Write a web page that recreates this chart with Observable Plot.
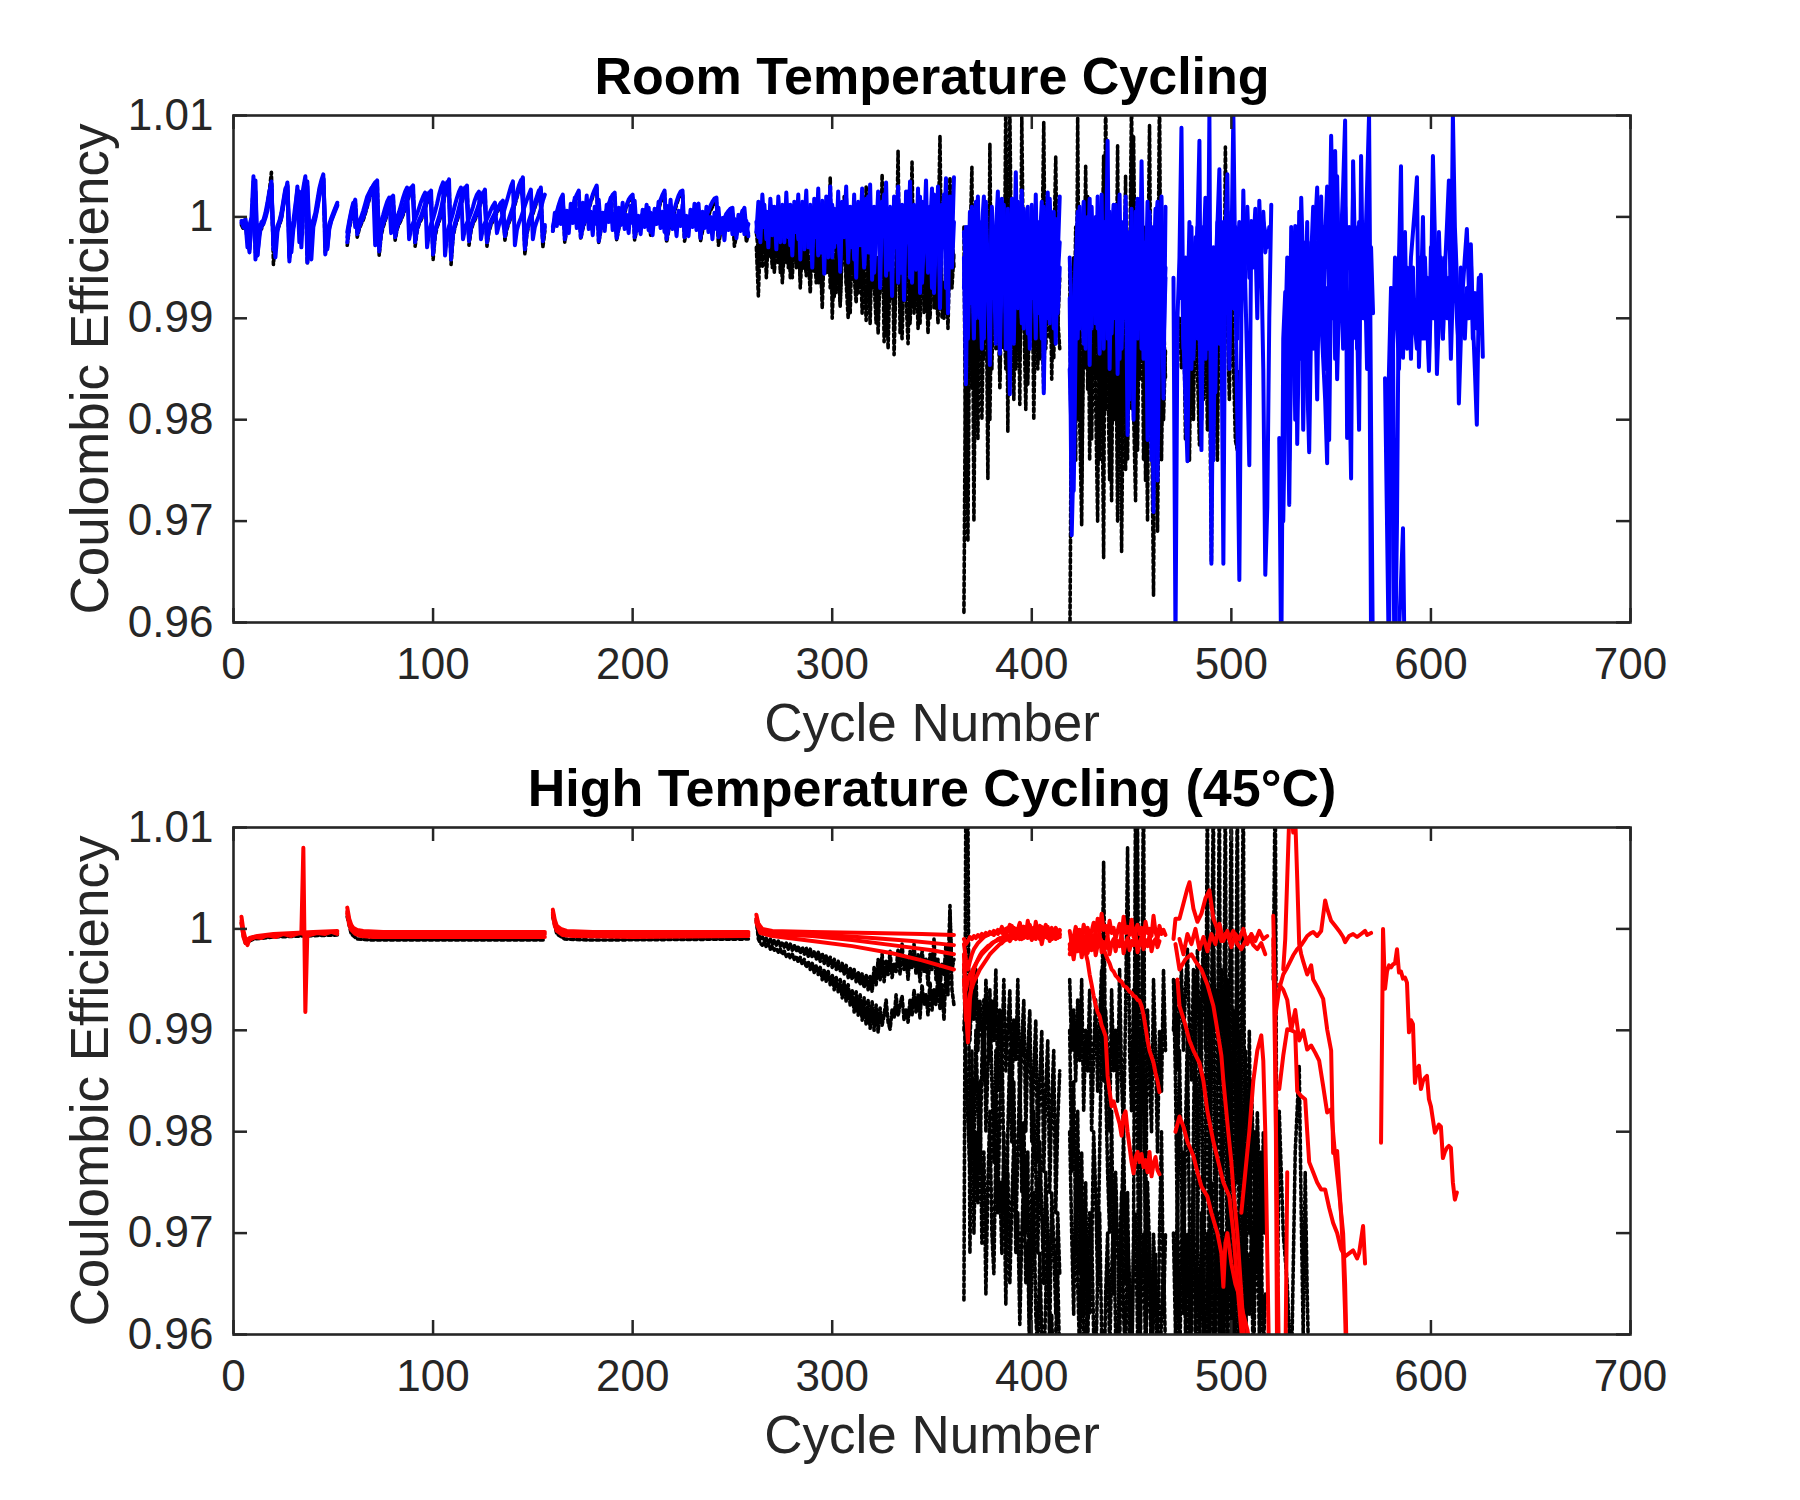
<!DOCTYPE html>
<html><head><meta charset="utf-8">
<script src="https://cdn.jsdelivr.net/npm/d3@7"></script>
<script src="https://cdn.jsdelivr.net/npm/@observablehq/plot@0.6"></script>
<style>
html,body{margin:0;padding:0;background:#fff;}
#chart{width:1800px;}
#chart svg{display:block;}
</style></head><body><div id="chart"></div>
<script>
const xDomain = [0, 700];
const yDomain = [0.96, 1.01];
const xTicks = [0, 100, 200, 300, 400, 500, 600, 700];
const xTickLabels = ["0", "100", "200", "300", "400", "500", "600", "700"];
const yTicks = [0.96, 0.97, 0.98, 0.99, 1.0, 1.01];
const yTickLabels = ["0.96", "0.97", "0.98", "0.99", "1", "1.01"];
const titles = ["Room Temperature Cycling", "High Temperature Cycling (45°C)"];
const xLabel = "Cycle Number";
const yLabel = "Coulombic Efficiency";

// ===== Room temperature: CE per cycle, one array per cell & block =====
const rtBlueA1 = [0.9996,0.9990,0.9995,0.9970,0.9992,0.9999,1.0040,0.9958,0.9984,0.9992,0.9990,0.9996,1.0001,1.0010,1.0022,1.0035,0.9972,0.9978,0.9989,0.9994,0.9999,1.0011,1.0023,1.0034,0.9956,0.9981,0.9992,1.0006,1.0030,0.9998,1.0013,1.0029,1.0040,0.9955,0.9986,0.9994,0.9997,1.0004,1.0016,1.0028,1.0036,1.0042,0.9963,0.9983,0.9993,0.9999,1.0004,1.0009,1.0014];
const rtBlueA2 = [0.9993,0.9998,0.9985,0.9965,0.9996,1.0012,1.0025,0.9962,0.9980,0.9995,0.9993,0.9999,1.0006,1.0018,1.0030,0.9978,0.9960,0.9985,0.9995,1.0002,1.0014,1.0026,1.0030,0.9990,0.9965,0.9988,1.0000,1.0020,1.0025,0.9970,1.0008,1.0022,1.0035,0.9988,0.9958,0.9990,0.9998,1.0008,1.0020,1.0032,1.0038,0.9985,0.9970,0.9990,0.9997,1.0002,1.0008,1.0012];
const rtBlueA3 = [0.9994,0.9996,0.9988,0.9992,0.9968,0.9994,1.0015,1.0036,0.9962,0.9986,0.9993,0.9997,1.0004,1.0014,1.0026,1.0032,0.9968,0.9982,0.9991,0.9996,1.0004,1.0016,1.0028,1.0031,0.9960,0.9984,0.9996,1.0012,1.0026,0.9975,1.0005,1.0020,1.0034,1.0030,0.9960,0.9988,0.9995,1.0000,1.0010,1.0022,1.0032,1.0038,0.9990,0.9968,0.9988,0.9996,1.0001,1.0006,1.0011];
const rtBlackA1 = [0.9992,0.9988,0.9994,0.9975,0.9990,0.9996,1.0035,0.9965,0.9980,0.9990,0.9988,0.9994,1.0000,1.0012,1.0026,1.0044,0.9953,0.9975,0.9987,0.9992,0.9998,1.0012,1.0025,1.0032,0.9962,0.9978,0.9990,1.0004,1.0026,0.9985,1.0010,1.0026,1.0038,0.9954,0.9982,0.9992,0.9996,1.0002,1.0014,1.0026,1.0034,1.0040,0.9965,0.9980,0.9991,0.9997,1.0002,1.0007,1.0012];

const rtBlueB1 = [0.9975,0.9990,1.0000,1.0010,1.0017,0.9983,0.9990,0.9995,0.9999,1.0005,1.0012,1.0019,1.0026,1.0030,1.0033,1.0036,0.9966,0.9985,0.9993,0.9998,1.0005,1.0012,1.0018,1.0021,0.9980,0.9990,0.9995,0.9999,1.0004,1.0010,1.0017,1.0023,1.0028,1.0031,0.9975,0.9988,0.9995,0.9999,1.0004,1.0010,1.0016,1.0022,1.0026,0.9963,0.9984,0.9992,0.9997,1.0004,1.0013,1.0024,1.0032,1.0037,0.9958,0.9983,0.9992,0.9998,1.0005,1.0013,1.0021,1.0027,1.0031,0.9976,0.9989,0.9995,0.9999,1.0004,1.0010,1.0016,1.0022,1.0027,0.9975,0.9988,0.9994,0.9998,1.0002,1.0006,1.0010,1.0013,1.0016,0.9981,0.9991,0.9996,1.0001,1.0007,1.0014,1.0021,1.0028,1.0034,1.0039,0.9968,0.9986,0.9994,0.9999,1.0005,1.0011,1.0017,1.0023,1.0029,0.9976,0.9990];
const rtBlueB2 = [0.9985,0.9996,1.0006,1.0014,0.9990,0.9993,0.9996,1.0000,1.0006,1.0013,1.0020,1.0024,1.0028,1.0030,0.9972,0.9982,0.9990,0.9996,1.0002,1.0009,1.0015,1.0019,0.9984,0.9992,0.9996,1.0000,1.0005,1.0012,1.0019,1.0025,1.0029,0.9978,0.9988,0.9994,0.9998,1.0003,1.0009,1.0015,1.0020,1.0024,0.9970,0.9985,0.9993,0.9998,1.0005,1.0013,1.0022,1.0029,1.0034,0.9962,0.9982,0.9991,0.9997,1.0004,1.0012,1.0019,1.0025,1.0029,0.9978,0.9988,0.9994,0.9999,1.0004,1.0010,1.0017,1.0022,1.0025,0.9978,0.9989,0.9994,0.9998,1.0002,1.0007,1.0011,1.0014,0.9984,0.9992,0.9997,1.0002,1.0009,1.0016,1.0023,1.0030,1.0035,0.9972,0.9987,0.9994,0.9999,1.0005,1.0011,1.0017,1.0022,1.0027,0.9978,0.9990,0.9996,1.0001,1.0008,1.0016,1.0022];
const rtBlueB3 = [0.9980,0.9994,1.0004,1.0012,1.0008,0.9986,0.9992,0.9997,1.0002,1.0008,1.0015,1.0022,1.0027,1.0031,1.0034,0.9990,0.9970,0.9988,0.9995,1.0001,1.0008,1.0014,1.0019,1.0010,0.9983,0.9992,0.9997,1.0002,1.0007,1.0013,1.0020,1.0025,1.0029,1.0015,0.9978,0.9990,0.9997,1.0001,1.0007,1.0013,1.0019,1.0024,1.0010,0.9966,0.9986,0.9994,1.0000,1.0008,1.0018,1.0028,1.0034,1.0020,0.9962,0.9985,0.9994,1.0001,1.0009,1.0017,1.0024,1.0029,1.0012,0.9979,0.9991,0.9997,1.0002,1.0007,1.0013,1.0019,1.0024,1.0010,0.9978,0.9990,0.9996,1.0000,1.0004,1.0008,1.0011,1.0014,0.9995,0.9984,0.9993,0.9998,1.0004,1.0010,1.0017,1.0024,1.0031,1.0036,1.0012,0.9972,0.9988,0.9996,1.0002,1.0008,1.0014,1.0020,1.0026,1.0010,0.9980,0.9992];
const rtBlackB1 = [0.9972,0.9988,0.9998,1.0008,1.0015,0.9980,0.9988,0.9993,0.9997,1.0003,1.0010,1.0017,1.0024,1.0029,1.0032,1.0034,0.9962,0.9982,0.9990,0.9996,1.0003,1.0010,1.0016,1.0019,0.9977,0.9988,0.9993,0.9997,1.0002,1.0008,1.0015,1.0021,1.0026,1.0029,0.9971,0.9986,0.9993,0.9997,1.0002,1.0008,1.0014,1.0020,1.0024,0.9958,0.9980,0.9990,0.9995,1.0002,1.0011,1.0022,1.0030,1.0035,0.9953,0.9980,0.9990,0.9996,1.0003,1.0011,1.0019,1.0025,1.0029,0.9972,0.9986,0.9993,0.9997,1.0002,1.0008,1.0014,1.0020,1.0025,0.9971,0.9985,0.9992,0.9996,1.0000,1.0004,1.0008,1.0011,1.0014,0.9977,0.9988,0.9994,0.9999,1.0005,1.0012,1.0019,1.0026,1.0032,1.0037,0.9963,0.9983,0.9992,0.9997,1.0003,1.0009,1.0015,1.0021,1.0027,0.9970,0.9986];

const rtBlueC1 = [0.9990,0.9998,1.0005,1.0012,1.0018,1.0022,0.9978,0.9990,0.9996,1.0003,1.0010,1.0017,1.0022,1.0026,0.9980,0.9990,0.9996,1.0002,1.0009,1.0016,1.0022,1.0027,1.0031,0.9976,0.9988,0.9995,1.0001,1.0007,1.0013,1.0018,1.0022,1.0024,0.9979,0.9990,0.9996,1.0001,1.0006,1.0012,1.0017,1.0020,1.0022,0.9980,0.9990,0.9995,0.9999,1.0003,1.0006,1.0008,1.0009,0.9985,0.9992,0.9997,1.0003,1.0010,1.0017,1.0022,1.0026,0.9978,0.9989,0.9995,1.0001,1.0008,1.0015,1.0021,1.0025,1.0026,0.9980,0.9990,0.9995,0.9999,1.0003,1.0007,1.0011,1.0013,0.9982,0.9991,0.9996,1.0001,1.0006,1.0011,1.0015,1.0018,1.0019,0.9980,0.9990,0.9995,0.9999,1.0003,1.0006,1.0008,1.0009,0.9983,0.9991,0.9996,1.0001,1.0005,1.0009,0.9986,0.9993];
const rtBlueC2 = [0.9986,1.0004,0.9991,1.0011,0.9993,1.0015,0.9987,1.0006,0.9984,1.0013,0.9994,1.0019,0.9989,1.0007,0.9985,1.0014,0.9996,1.0021,0.9988,1.0005,0.9982,1.0010,0.9993,1.0017,0.9990,1.0004,0.9986,1.0012,0.9995,1.0019,0.9987,1.0003,0.9981,1.0009,0.9992,1.0014,0.9988,1.0002,0.9984,1.0011,0.9994,1.0016,0.9986,1.0001,0.9983,1.0007,0.9990,1.0012,0.9987,1.0004,0.9982,1.0008,0.9993,1.0015,0.9989,1.0005,0.9985,1.0011,0.9994,1.0017,0.9988,1.0002,0.9981,1.0006,0.9991,1.0012,0.9986,1.0001,0.9981,1.0007,0.9990,1.0013,0.9987,1.0003,0.9979,1.0005,0.9989,1.0010,0.9985,1.0000,0.9978,1.0004,0.9988,1.0009,0.9984,0.9999,0.9977,1.0003,0.9987,1.0008,0.9983,0.9998,0.9979,1.0002,0.9986,1.0006,0.9983,0.9996,0.9981];
const rtBlackC1 = [0.9986,0.9995,1.0003,1.0010,1.0016,1.0020,0.9975,0.9987,0.9994,1.0001,1.0008,1.0015,1.0020,1.0024,0.9978,0.9988,0.9994,1.0000,1.0007,1.0014,1.0020,1.0025,1.0029,0.9974,0.9986,0.9993,0.9999,1.0005,1.0011,1.0016,1.0020,1.0022,0.9977,0.9988,0.9994,0.9999,1.0004,1.0010,1.0015,1.0018,1.0020,0.9977,0.9987,0.9992,0.9996,1.0000,1.0003,1.0005,1.0006,0.9982,0.9989,0.9994,1.0000,1.0007,1.0014,1.0019,1.0023,0.9975,0.9986,0.9992,0.9998,1.0005,1.0012,1.0018,1.0022,1.0023,0.9976,0.9986,0.9991,0.9995,0.9999,1.0003,1.0007,1.0009,0.9976,0.9986,0.9991,0.9996,1.0001,1.0006,1.0010,1.0013,1.0014,0.9972,0.9984,0.9989,0.9993,0.9997,1.0000,1.0002,1.0003,0.9971,0.9982,0.9988,0.9994,0.9998,1.0002,0.9975,0.9984];

const rtBlueD1 = [0.9985,1.0015,0.9975,1.0022,0.9990,1.0005,0.9970,1.0018,0.9982,1.0010,0.9968,1.0020,0.9988,1.0008,0.9975,1.0024,0.9980,1.0012,0.9962,1.0015,0.9985,1.0022,0.9958,1.0010,0.9992,1.0026,0.9970,1.0005,0.9950,1.0018,0.9980,1.0028,0.9965,1.0012,0.9944,1.0020,0.9985,1.0030,0.9960,1.0008,0.9975,1.0025,0.9946,1.0015,0.9990,1.0030,0.9955,1.0010,0.9970,1.0022,0.9940,1.0012,0.9982,1.0028,0.9952,1.0018,0.9965,1.0032,0.9938,1.0010,0.9978,1.0025,0.9930,1.0015,0.9985,1.0034,0.9948,1.0008,0.9922,1.0020,0.9970,1.0030,0.9945,1.0012,0.9918,1.0025,0.9975,1.0035,0.9935,1.0005,0.9960,1.0028,0.9925,1.0015,0.9980,1.0036,0.9950,1.0010,0.9930,1.0022,0.9965,1.0030,0.9910,1.0012,0.9975,1.0038,0.9905,1.0020,0.9968,1.0039];
const rtBlueD2 = [0.9995,0.9980,1.0008,0.9990,1.0012,0.9978,1.0004,0.9993,1.0010,0.9984,1.0006,0.9990,0.9975,1.0012,0.9995,0.9982,1.0008,0.9972,1.0002,0.9990,1.0010,0.9978,0.9996,1.0015,0.9968,1.0003,0.9985,1.0012,0.9975,0.9998,1.0008,0.9962,0.9990,1.0016,0.9978,1.0004,0.9960,0.9995,1.0012,0.9970,1.0002,0.9985,0.9955,1.0010,0.9980,1.0018,0.9965,0.9992,1.0006,0.9958,0.9990,1.0015,0.9972,1.0000,0.9950,0.9988,1.0020,0.9968,1.0005,0.9945,0.9985,1.0012,0.9960,0.9998,1.0022,0.9942,0.9980,1.0010,0.9958,0.9995,1.0018,0.9935,0.9975,1.0005,0.9952,0.9990,1.0025,0.9940,0.9982,1.0012,0.9948,0.9995,1.0020,0.9935,0.9978,1.0008,0.9945,0.9988,1.0028,0.9925,0.9980,1.0012,0.9940,0.9990,1.0022,0.9930,0.9975,1.0010,0.9950,0.9995];
const rtBlackD1 = [0.9970,0.9922,0.9985,0.9950,0.9995,0.9940,0.9980,0.9960,1.0000,0.9945,0.9975,0.9955,0.9990,0.9935,0.9968,1.0005,0.9950,0.9978,0.9940,0.9985,0.9955,0.9995,0.9930,0.9972,0.9948,1.0010,0.9960,0.9925,0.9980,0.9945,0.9990,0.9935,0.9965,0.9910,0.9975,1.0015,0.9945,1.0039,0.9900,0.9955,0.9925,0.9980,0.9915,0.9960,0.9995,0.9935,0.9900,0.9970,0.9985,0.9950,0.9985,0.9925,0.9970,0.9905,0.9955,1.0030,0.9940,0.9895,0.9975,0.9930,0.9960,0.9885,0.9945,1.0020,0.9877,0.9965,0.9870,0.9950,0.9990,0.9864,0.9940,1.0065,0.9885,0.9960,1.0010,0.9920,0.9875,0.9955,1.0054,0.9905,0.9930,0.9985,0.9895,0.9950,1.0000,0.9915,0.9965,0.9900,0.9945,0.9990,0.9910,0.9970,1.0080,0.9900,0.9935,0.9905,0.9960,1.0039,0.9985,0.9950];
const rtBlackD2 = [0.9985,0.9965,1.0002,0.9970,0.9990,0.9958,1.0005,0.9975,0.9950,0.9995,0.9962,0.9988,0.9945,1.0000,0.9970,0.9955,0.9992,0.9940,0.9980,1.0008,0.9950,0.9975,0.9938,0.9995,0.9965,0.9942,0.9985,1.0010,0.9948,0.9970,0.9935,0.9990,0.9955,0.9925,0.9980,0.9945,1.0012,0.9930,0.9968,0.9920,0.9985,0.9950,0.9912,0.9975,1.0020,0.9935,0.9960,0.9905,0.9980,0.9942,0.9915,0.9970,0.9930,1.0025,0.9950,0.9898,0.9965,0.9920,0.9985,0.9935,0.9895,0.9960,0.9925,1.0042,0.9940,0.9882,0.9955,0.9918,0.9975,0.9890,0.9945,1.0030,0.9910,0.9880,0.9950,0.9925,1.0020,0.9895,0.9940,0.9910,0.9960,0.9890,0.9935,1.0015,0.9905,0.9950,0.9885,0.9940,1.0025,0.9910,0.9945,0.9895,0.9960,0.9920,0.9900,0.9955,0.9890,0.9975,0.9930,0.9965];

const rtBlueE1 = [0.9960,0.9835,0.9990,0.9930,1.0010,0.9905,0.9980,1.0020,0.9915,0.9995,0.9880,1.0015,0.9940,0.9854,1.0005,0.9920,0.9985,1.0025,0.9900,0.9960,1.0012,0.9870,0.9990,0.9825,1.0018,0.9935,1.0044,0.9910,0.9975,1.0026,0.9890,0.9965,1.0010,0.9880,0.9995,0.9930,1.0022,0.9905,0.9975,1.0015,0.9826,0.9950,1.0024,0.9895,0.9980,1.0005,0.9875,0.9960,1.0020];
const rtBlueE2 = [0.9985,0.9950,0.9905,1.0005,0.9960,0.9880,1.0015,0.9945,0.9900,0.9990,1.0020,0.9925,0.9965,0.9895,1.0010,0.9950,0.9875,0.9995,0.9930,1.0018,0.9960,0.9905,1.0008,0.9945,0.9885,0.9990,0.9920,1.0015,0.9955,0.9895,1.0005,0.9940,0.9985,0.9870,1.0012,0.9960,0.9905,0.9995,0.9935,0.9880,1.0010,0.9965,0.9900,1.0018,0.9950,0.9890,0.9998,0.9940,0.9975];
const rtBlueE3 = [0.9930,0.9990,0.9880,0.9965,0.9915,0.9995,0.9900,0.9975,0.9935,0.9870,0.9985,0.9920,0.9960,0.9895,1.0000,0.9940,0.9910,0.9980,0.9865,0.9950,0.9925,0.9995,0.9890,0.9960,0.9935,0.9875,0.9990,0.9915,0.9970,0.9900,1.0008,0.9945,0.9885,0.9975,0.9920,0.9960,0.9880,0.9990,0.9930,0.9965,0.9895,1.0002,0.9940,0.9910,0.9970,0.9925,0.9985,0.9905,0.9950];
const rtBlackE1 = [0.9610,0.9920,0.9680,0.9970,1.0049,0.9700,0.9950,0.9860,0.9990,0.9800,0.9920,0.9975,0.9742,1.0072,0.9850,0.9960,0.9880,0.9985,0.9830,0.9940,0.9870,1.0120,0.9788,1.0110,0.9900,0.9960,0.9850,0.9990,0.9815,1.0098,0.9905,0.9810,0.9970,0.9880,0.9995,0.9800,0.9930,0.9985,0.9860,0.9950,1.0093,0.9870,0.9920,0.9980,0.9840,0.9960,1.0059,0.9890,0.9940];
const rtBlackE2 = [0.9990,0.9720,0.9950,0.9880,0.9830,0.9975,0.9900,0.9780,0.9960,0.9920,0.9860,0.9995,0.9890,0.9800,0.9940,0.9980,0.9870,0.9925,0.9840,0.9990,0.9900,0.9850,0.9960,0.9880,0.9935,0.9820,0.9970,0.9905,0.9860,0.9945,0.9890,0.9985,0.9835,0.9920,0.9960,0.9870,0.9910,0.9850,0.9975,0.9895,0.9830,0.9940,0.9965,0.9880,0.9915,0.9860,0.9950,0.9900,0.9870];

const rtBlueF1 = [0.9920,0.9686,0.9769,0.9950,1.0005,0.9890,0.9975,1.0015,0.9910,0.9985,0.9854,1.0010,0.9940,0.9895,1.0020,0.9960,0.9880,0.9995,0.9935,1.0075,0.9850,0.9980,1.0012,0.9900,0.9965,1.0022,0.9870,0.9950,0.9990,0.9785,0.9930,1.0008,0.9905,0.9975,1.0018,0.9890,1.0055,0.9920,0.9960,0.9860,1.0005,0.9940,0.9709,0.9985,1.0015,0.9880,0.9950,0.9821,1.0010];
const rtBlueF2 = [0.9960,0.9900,0.9730,0.9880,0.9965,1.0010,0.9930,0.9875,0.9990,0.9945,1.0018,0.9905,0.9960,1.0000,0.9890,0.9940,1.0022,0.9870,0.9975,0.9925,0.9995,0.9885,0.9950,1.0012,0.9915,0.9860,0.9985,0.9940,1.0020,0.9900,0.9820,0.9970,0.9935,1.0005,0.9880,0.9950,0.9995,0.9860,0.9920,1.0015,0.9895,0.9760,0.9940,1.0008,0.9905,0.9965,1.0020,0.9900,0.9950];
const rtBlueF3 = [0.9850,0.9780,0.9900,0.9960,0.9880,0.9990,0.9920,0.9955,0.9870,1.0000,0.9935,0.9890,0.9975,0.9910,0.9960,0.9865,0.9990,0.9925,0.9955,0.9880,1.0005,0.9940,0.9900,0.9970,0.9845,0.9950,0.9995,0.9900,0.9960,0.9880,0.9985,0.9930,0.9800,0.9950,0.9910,0.9990,0.9870,0.9945,0.9975,0.9780,0.9930,0.9990,0.9890,0.9955,0.9740,0.9920,0.9985,0.9870,0.9940];
const rtBlackF1 = [0.9550,0.9880,0.9960,0.9760,1.0098,0.9800,0.9696,0.9940,0.9850,1.0020,0.9760,0.9920,0.9985,0.9820,0.9700,0.9960,0.9880,0.9664,1.0130,0.9850,0.9740,0.9990,0.9800,0.9920,0.9700,0.9980,0.9670,0.9880,1.0040,0.9760,0.9930,1.0120,0.9810,0.9720,0.9950,0.9840,0.9990,0.9760,0.9900,0.9700,0.9980,0.9820,0.9627,0.9940,0.9860,1.0130,0.9760,0.9900,0.9840];
const rtBlackF2 = [0.9950,0.9700,0.9850,0.9990,0.9800,0.9930,0.9740,0.9890,1.0050,0.9830,0.9960,0.9780,0.9900,0.9840,0.9985,0.9760,0.9920,1.0060,0.9810,0.9950,0.9870,0.9720,0.9980,0.9850,1.0070,0.9790,0.9920,0.9860,0.9750,0.9975,0.9880,0.9810,1.0080,0.9900,0.9770,0.9940,0.9860,0.9990,0.9740,0.9910,1.0090,0.9830,0.9780,0.9950,0.9690,0.9880,0.9990,0.9800,0.9870];

const rtBlueG1 = [0.9940,0.9580,0.9900,0.9960,1.0088,0.9880,0.9820,0.9759,0.9950,0.9990,0.9870,0.9935,0.9985,1.0075,0.9770,0.9960,1.0019,0.9870,1.0101,0.9658,0.9900,0.9827,0.9990,1.0047,0.9910,0.9658,0.9980,1.0042,0.9890,0.9960,1.0101,0.9940,0.9800,0.9642,0.9900,1.0026,0.9930,0.9850,0.9755,0.9996,0.9950,0.9980,0.9900,1.0016,0.9960,0.9850,0.9647,0.9714,0.9900,1.0012];
const rtBlueG2 = [0.9920,0.9985,0.9870,0.9960,0.9905,0.9995,0.9850,0.9945,0.9980,0.9880,0.9965,0.9925,0.9990,0.9860,0.9950,0.9985,0.9900,0.9970,0.9935,0.9995,0.9875,0.9960,0.9990,0.9920,0.9975,0.9945,1.0005,0.9910,0.9985,0.9960,0.9995,0.9940,0.9980,0.9965,1.0010,0.9955,0.9985,0.9970,1.0008,0.9960,0.9990,0.9975,1.0005,0.9965,0.9985,0.9975];
const rtBlueG3 = [0.9880,0.9950,0.9820,0.9930,0.9975,0.9860,0.9940,0.9990,0.9895,0.9800,0.9960,0.9915,0.9985,0.9870,0.9940,0.9760,0.9925,0.9970,0.9890,0.9950,0.9995,0.9905,0.9960,0.9850,0.9975,0.9930,0.9990,0.9880,0.9950,0.9980,0.9920,0.9965,0.9995,0.9940,0.9975,0.9960,0.9990,0.9950,0.9980,0.9965,0.9995,0.9985,0.9970,0.9990];
const rtBlackG1 = [0.9900,0.9850,0.9930,0.9780,0.9880,0.9760,0.9910,0.9800,0.9950,0.9850,0.9775,0.9900,0.9820,0.9940,0.9790,0.9870,0.9660,0.9920,0.9850,0.9760,0.9950,0.9880,0.9790,1.0069,0.9900,0.9820,0.9940,0.9860,0.9780,0.9770,0.9850];

const rtBlueH1 = [0.9782,0.9550,0.9880,0.9926,0.9850,0.9716,0.9880,0.9940,0.9991,0.9776,0.9900,1.0019,0.9950,0.9870,0.9840,0.9768,0.9900,0.9960,0.9990,1.0029,0.9940,0.9900,0.9860,0.9820,0.9757,0.9950,1.0080,0.9980,1.0065,0.9950,0.9900,0.9980,1.0030,1.0095,0.9782,0.9860,0.9742,1.0055,0.9960,0.9900,0.9790,1.0060,0.9920,0.9960,1.0030,1.0101,0.9795,0.9540];
const rtBlueH2 = [0.9880,0.9960,0.9830,0.9990,0.9900,0.9950,0.9860,1.0005,0.9920,0.9975,0.9890,0.9995,0.9840,0.9960,1.0010,0.9905,0.9975,0.9940,1.0020,0.9870,0.9980,1.0030,0.9920,0.9960,0.9990,0.9860,1.0040,0.9935,0.9975,0.9880,1.0010,0.9950,0.9990,0.9900,1.0025,0.9960,0.9870,0.9995,0.9920,0.9985,0.9940,1.0000,0.9880,0.9970,0.9905];
const rtBlueH3 = [0.9700,0.9820,0.9920,0.9760,0.9880,0.9950,0.9800,0.9920,0.9860,0.9965,0.9790,0.9900,0.9940,0.9830,0.9975,0.9870,0.9925,0.9820,0.9960,0.9890,0.9990,0.9850,0.9930,0.9780,0.9950,0.9900,0.9980,0.9840,0.9920,0.9960,0.9870,0.9995,0.9910,0.9830,0.9950,0.9880,0.9990,0.9920,0.9860,0.9970,0.9900,0.9940,0.9850,0.9960,0.9580];

const rtBlueI1 = [0.9841,0.9697,0.9550,0.9920,0.9880,0.9550,0.9700,0.9960,1.0050,0.9861,0.9940,0.9950,0.9908,0.9960,0.9985,1.0010,1.0039,0.9852,0.9930,0.9880,0.9960,0.9900,0.9848,0.9920,1.0060,0.9980,0.9845,0.9900,0.9960,0.9880,0.9947,0.9990,1.0036,0.9900,1.0101,0.9990,0.9940,0.9816,0.9880,0.9930,0.9960,0.9988,0.9930,0.9973,0.9900,0.9850,0.9795,0.9920,0.9943,0.9862];
const rtBlueI2 = [0.9760,0.9850,0.9930,0.9870,0.9960,0.9900,0.9850,0.9940,0.9880,0.9985,0.9870,0.9930,0.9860,0.9950,0.9890,0.9870,0.9960,0.9920,1.0000,0.9880,0.9940,0.9860,0.9970,0.9900,0.9950,0.9870,0.9985,0.9920,0.9880,0.9960,0.9900,0.9940,0.9860,0.9930,0.9980,0.9900,0.9870,0.9950,0.9920,0.9880,0.9930,0.9900,0.9960,0.9880,0.9925,0.9890,0.9940,0.9910];
const rtBlueI3 = [0.9930,0.9700,0.9530,0.9550,0.9590,0.9640,0.9693,0.9530];

// [cell id, first cycle, CE array]
const rtBlackRuns = [["kA1",4,rtBlackA1],["kB1",57,rtBlackB1],["kC1",160,rtBlackC1],["kD1",262,rtBlackD1],["kD2",262,rtBlackD2],["kE1",366,rtBlackE1],["kE2",366,rtBlackE2],["kF1",419,rtBlackF1],["kF2",419,rtBlackF2],["kG1",474,rtBlackG1]];
const rtBlueRuns = [["bA1",4,rtBlueA1],["bA2",5,rtBlueA2],["bA3",4,rtBlueA3],["bB1",57,rtBlueB1],["bB2",57,rtBlueB2],["bB3",57,rtBlueB3],["bC1",160,rtBlueC1],["bC2",160,rtBlueC2],["bD1",262,rtBlueD1],["bD2",262,rtBlueD2],["bE1",366,rtBlueE1],["bE2",366,rtBlueE2],["bE3",366,rtBlueE3],["bF1",419,rtBlueF1],["bF2",419,rtBlueF2],["bF3",419,rtBlueF3],["bG1",471,rtBlueG1],["bG2",474,rtBlueG2],["bG3",476,rtBlueG3],["bH1",524,rtBlueH1],["bH2",527,rtBlueH2],["bH3",526,rtBlueH3],["bI1",577,rtBlueI1],["bI2",578,rtBlueI2],["bI3",580,rtBlueI3]];

// ===== High temperature (45°C) =====
const htRedA1 = [[4,1.0012],[5,0.9998],[6,0.9990],[7,0.9984],[8,0.9990],[10,0.9992],[15,0.9993],[20,0.9994],[25,0.9995],[30,0.9995],[34,0.9996],[35,1.0080],[36,0.9918],[37,0.9996],[40,0.9996],[45,0.9997],[52,0.9997]];
const htRedA2 = [[4,1.0005],[5,0.9993],[6,0.9988],[8,0.9991],[12,0.9993],[20,0.9995],[30,0.9996],[40,0.9997],[52,0.9998]];
const htRedA3 = [[4,1.0008],[5,0.9992],[6,0.9986],[8,0.9989],[11,0.9992],[14,0.9991],[17,0.9994],[21,0.9992],[25,0.9995],[29,0.9993],[33,0.9996],[38,0.9994],[42,0.9996],[46,0.9995],[49,0.9997],[52,0.9995]];
const htBlackA = [[4,1.0006],[6,0.9986],[10,0.9990],[20,0.9992],[35,0.9993],[52,0.9994]];
const htRedB1 = [[57,1.0021],[58,1.0010],[59,1.0004],[60,1.0001],[62,0.9999],[65,0.9998],[75,0.9997],[100,0.9997],[130,0.9997],[156,0.9997]];
const htRedB2 = [[57,1.0015],[58,1.0004],[59,0.9999],[61,0.9995],[64,0.9993],[70,0.9992],[90,0.9992],[120,0.9992],[156,0.9992]];
const htRedB3 = [[57,1.0017],[58,1.0007],[60,0.9999],[63,0.9996],[68,0.9995],[80,0.9994],[110,0.9995],[140,0.9994],[156,0.9995]];
const htBlackB = [[57,1.0012],[59,0.9995],[62,0.9990],[70,0.9989],[100,0.9989],[156,0.9989]];
const htRedC1 = [[160,1.0019],[161,1.0009],[162,1.0003],[164,1.0000],[167,0.9998],[180,0.9997],[220,0.9997],[258,0.9997]];
const htRedC2 = [[160,1.0014],[161,1.0003],[162,0.9998],[165,0.9994],[170,0.9993],[200,0.9992],[258,0.9993]];
const htRedC3 = [[160,1.0016],[161,1.0006],[163,0.9999],[166,0.9996],[175,0.9995],[210,0.9995],[258,0.9995]];
const htBlackC = [[160,1.0012],[162,0.9995],[166,0.9990],[180,0.9989],[258,0.9990]];
const htRedD1 = [[262,1.0014],[263,1.0005],[265,1.0000],[270,0.9998],[290,0.9997],[320,0.9996],[345,0.9995],[361,0.9994]];
const htRedD2 = [[262,1.0010],[264,1.0000],[267,0.9997],[290,0.9995],[320,0.9991],[340,0.9988],[361,0.9984]];
const htRedD3 = [[262,1.0008],[264,0.9998],[268,0.9995],[290,0.9993],[310,0.9989],[330,0.9984],[350,0.9979],[361,0.9975]];
const htRedD4 = [[262,1.0006],[264,0.9996],[270,0.9993],[290,0.9988],[310,0.9983],[330,0.9976],[345,0.9969],[361,0.9960]];
const htBlackD1 = [1.0010,0.9990,0.9986,0.9984,0.9987,0.9982,0.9985,0.9980,0.9983,0.9979,0.9981,0.9977,0.9980,0.9975,0.9978,0.9973,0.9976,0.9971,0.9975,0.9970,0.9973,0.9967,0.9972,0.9965,0.9970,0.9962,0.9968,0.9960,0.9966,0.9957,0.9964,0.9955,0.9962,0.9950,0.9960,0.9948,0.9958,0.9945,0.9955,0.9940,0.9952,0.9938,0.9950,0.9932,0.9948,0.9928,0.9945,0.9925,0.9940,0.9918,0.9938,0.9915,0.9935,0.9910,0.9932,0.9905,0.9930,0.9902,0.9928,0.9900,0.9925,0.9898,0.9922,0.9905,0.9915,0.9930,0.9908,0.9901,0.9920,0.9912,0.9935,0.9914,0.9925,0.9934,0.9910,0.9920,0.9908,0.9930,0.9915,0.9940,0.9918,0.9935,0.9912,0.9945,0.9925,0.9935,0.9915,0.9948,0.9920,0.9940,0.9925,0.9955,0.9921,0.9945,0.9910,0.9960,0.9935,1.0023,0.9940,0.9925];
const htBlackD2 = [1.0008,0.9995,0.9990,0.9992,0.9988,0.9991,0.9986,0.9990,0.9985,0.9989,0.9984,0.9988,0.9983,0.9987,0.9982,0.9986,0.9980,0.9985,0.9979,0.9984,0.9978,0.9983,0.9976,0.9982,0.9975,0.9981,0.9973,0.9980,0.9972,0.9978,0.9970,0.9977,0.9968,0.9976,0.9966,0.9974,0.9964,0.9972,0.9962,0.9970,0.9960,0.9968,0.9958,0.9966,0.9955,0.9964,0.9952,0.9962,0.9950,0.9960,0.9948,0.9958,0.9945,0.9956,0.9942,0.9955,0.9940,0.9953,0.9938,0.9962,0.9945,0.9970,0.9950,0.9975,0.9948,0.9968,0.9955,0.9978,0.9952,0.9965,0.9958,0.9980,0.9955,0.9985,0.9960,0.9972,0.9950,0.9978,0.9962,0.9985,0.9955,0.9975,0.9948,0.9980,0.9958,0.9970,0.9945,0.9975,0.9960,0.9990,0.9950,0.9970,0.9942,0.9965,0.9955,0.9985,0.9948,1.0015,0.9960,0.9970];

const htRedE1 = [0.9990,0.9985,0.9988,0.9992,0.9990,0.9993,0.9991,0.9994,0.9992,0.9995,0.9993,0.9996,0.9994,0.9997,0.9995,0.9998,0.9996,0.9999,0.9997,1.0002,0.9996,1.0000,0.9998,1.0004,0.9997,1.0001,0.9995,0.9999,1.0006,0.9997,1.0002,0.9994,1.0008,0.9996,1.0000,0.9993,1.0007,0.9997,0.9990,1.0002,0.9996,1.0004,0.9992,0.9998,1.0001,0.9995,0.9999,0.9991,0.9998];
const htRedE2 = [0.9975,0.9920,0.9888,0.9930,0.9950,0.9960,0.9965,0.9970,0.9974,0.9977,0.9979,0.9981,0.9983,0.9984,0.9986,0.9987,0.9988,0.9990,0.9989,0.9991,0.9993,0.9990,0.9994,0.9992,0.9995,0.9991,0.9996,0.9993,0.9990,0.9995,0.9997,0.9992,0.9998,0.9994,0.9989,0.9996,0.9999,0.9993,0.9996,0.9985,0.9995,0.9998,0.9992,0.9996,0.9990,0.9994,0.9997,0.9993,0.9995];
const htRedE3 = [0.9965,0.9940,0.9950,0.9955,0.9958,0.9962,0.9966,0.9969,0.9972,0.9975,0.9977,0.9979,0.9981,0.9983,0.9985,0.9987,0.9988,0.9989,0.9991,0.9990,0.9992,0.9994,0.9991,0.9993,0.9996,0.9992,0.9994,0.9997,0.9993,0.9995,0.9991,0.9996,0.9994,0.9998,0.9992,0.9995,0.9990,0.9994,0.9997,0.9991,0.9995,0.9992,0.9996,0.9988,0.9993,0.9996,0.9990,0.9995,0.9992];
const htRedE4 = [0.9950,0.9910,0.9925,0.9935,0.9942,0.9948,0.9952,0.9956,0.9960,0.9963,0.9966,0.9969,0.9972,0.9975,0.9977,0.9979,0.9981,0.9983,0.9985,0.9986,0.9988,0.9989,0.9990,0.9988,0.9991,0.9993,0.9990,0.9992,0.9994,0.9990,0.9993,0.9995,0.9991,0.9994,0.9990,0.9993,0.9996,0.9992,0.9994,0.9989,0.9993,0.9995,0.9991,0.9994,0.9990,0.9993,0.9996,0.9992,0.9994];
const htRedE5 = [0.9985,0.9970,0.9960,0.9968,0.9975,0.9980,0.9983,0.9986,0.9988,0.9990,0.9992,0.9993,0.9994,0.9995,0.9996,0.9994,0.9997,0.9995,0.9998,0.9996,0.9999,0.9995,1.0001,0.9997,1.0003,0.9996,1.0000,0.9994,1.0005,0.9998,1.0002,0.9995,0.9999,1.0004,0.9996,1.0001,0.9993,0.9999,1.0003,0.9995,1.0000,0.9997,1.0002,0.9994,0.9999,0.9996,1.0001,0.9997,0.9999];
const htBlackE1 = [0.9634,1.0150,1.0120,0.9680,0.9850,0.9780,0.9900,0.9820,0.9760,0.9870,0.9930,0.9800,0.9860,0.9940,0.9850,0.9770,0.9880,0.9723,0.9820,0.9900,0.9760,0.9630,0.9800,0.9880,0.9790,0.9850,0.9697,0.9780,0.9860,0.9740,0.9810,0.9700,0.9780,0.9580,0.9740,0.9820,0.9760,0.9680,0.9790,0.9720,0.9650,0.9760,0.9700,0.9600,0.9740,0.9690,0.9620,0.9720,0.9660];
const htBlackE2 = [0.9900,0.9950,0.9920,0.9890,0.9940,0.9910,0.9960,0.9880,0.9930,0.9900,0.9850,0.9950,0.9910,0.9870,0.9930,0.9890,0.9960,0.9840,0.9920,0.9880,0.9950,0.9860,0.9900,0.9940,0.9830,0.9910,0.9870,0.9950,0.9820,0.9890,0.9930,0.9800,0.9880,0.9920,0.9790,0.9860,0.9910,0.9770,0.9850,0.9900,0.9760,0.9840,0.9890,0.9740,0.9830,0.9880,0.9720,0.9810,0.9860];
const htBlackE3 = [0.9960,0.9870,0.9810,0.9760,0.9880,0.9700,0.9800,0.9730,0.9850,0.9690,0.9780,0.9640,0.9750,0.9820,0.9700,0.9660,0.9790,0.9720,0.9750,0.9680,0.9800,0.9700,0.9760,0.9650,0.9730,0.9790,0.9680,0.9720,0.9610,0.9700,0.9760,0.9650,0.9690,0.9560,0.9660,0.9740,0.9620,0.9580,0.9680,0.9600,0.9550,0.9640,0.9700,0.9580,0.9620,0.9540,0.9600,0.9660,0.9570];

const htRedF1 = [0.9998,0.9985,0.9992,1.0002,0.9995,0.9999,0.9991,1.0004,0.9996,1.0001,0.9993,0.9998,1.0006,0.9995,1.0010,0.9997,1.0015,0.9999,1.0003,0.9994,1.0008,0.9996,1.0001,0.9990,0.9998,1.0005,0.9993,1.0012,0.9996,1.0002,0.9994,1.0009,0.9992,0.9999,1.0004,0.9995,1.0001,0.9990,1.0007,0.9996,1.0000,0.9993,1.0013,0.9997,0.9990,1.0003,0.9995,0.9999,0.9994];
const htRedF2 = [0.9985,0.9975,0.9988,0.9993,0.9987,0.9992,0.9985,0.9990,0.9976,0.9968,0.9955,0.9945,0.9934,0.9925,0.9918,0.9914,0.9905,0.9900,0.9894,0.9855,0.9840,0.9825,0.9830,0.9822,0.9815,0.9808,0.9796,0.9815,0.9820,0.9800,0.9785,0.9770,0.9759,0.9775,0.9780,0.9770,0.9778,0.9765,0.9772,0.9760,0.9780,0.9756,0.9768,0.9775,0.9762,0.9758];
const htRedF3 = [0.9980,0.9990,0.9984,0.9992,0.9988,0.9995,0.9986,0.9993,0.9989,0.9996,0.9987,0.9994,0.9990,0.9997,0.9985,0.9992,0.9988,0.9980,0.9975,0.9970,0.9966,0.9960,0.9958,0.9954,0.9952,0.9949,0.9948,0.9944,0.9943,0.9941,0.9938,0.9937,0.9934,0.9933,0.9930,0.9929,0.9924,0.9915,0.9903,0.9890,0.9880,0.9874,0.9868,0.9858,0.9850,0.9839];
const htRedF4 = [0.9975,0.9982,0.9970,0.9985,0.9978,0.9988,0.9972,0.9983,0.9990,0.9976,0.9986,0.9979,0.9992,0.9974,0.9984,0.9995,0.9977,0.9987,0.9981,0.9993,0.9975,0.9986,0.9990,0.9978,0.9988,0.9983,0.9995,0.9976,0.9985,0.9991,0.9979,0.9988,0.9984,0.9996,0.9977,0.9986,0.9992,0.9980,0.9989,0.9983,0.9994,0.9978,0.9987,0.9990,0.9982,0.9988];
const htBlackF1 = [0.9900,0.9760,0.9850,0.9700,0.9820,0.9660,0.9780,0.9620,0.9750,0.9580,0.9720,0.9680,0.9800,0.9740,0.9650,0.9780,0.9900,1.0066,0.9850,0.9760,0.9700,0.9820,0.9640,0.9760,0.9690,0.9580,0.9720,0.9800,0.9650,0.9740,0.9600,0.9550,0.9700,1.0150,0.9800,0.9500,0.9900,1.0150,0.9600,0.9750,0.9680,0.9560,0.9700,0.9640,0.9550,0.9700,0.9800,0.9620,0.9700];
const htBlackF2 = [0.9950,0.9880,0.9920,0.9850,0.9930,0.9870,0.9950,0.9820,0.9900,0.9860,0.9940,0.9800,0.9880,0.9930,0.9840,0.9910,0.9960,0.9850,0.9920,0.9880,0.9800,0.9940,0.9860,0.9900,0.9830,0.9960,0.9850,0.9800,0.9920,1.0080,0.9880,0.9820,0.9940,0.9870,1.0100,0.9780,0.9900,0.9840,0.9700,0.9920,0.9860,0.9800,0.9950,0.9880,0.9780,0.9900,0.9840,0.9960,0.9880];
const htBlackF3 = [0.9800,0.9700,0.9620,0.9750,0.9650,0.9580,0.9700,0.9600,0.9540,0.9680,0.9620,0.9700,0.9600,0.9560,0.9660,0.9720,0.9600,0.9520,0.9640,0.9700,0.9580,0.9660,0.9720,0.9600,0.9550,0.9680,0.9740,0.9620,0.9570,0.9700,0.9650,0.9560,0.9680,0.9720,0.9600,0.9540,0.9660,0.9700,0.9580,0.9640,0.9700,0.9560,0.9620,0.9680,0.9600,0.9540,0.9620,0.9680,0.9580];

const htRedG1 = [[472,0.9800],[474,0.9815],[476,0.9805],[478,0.9790],[481,0.9776],[483,0.9760],[485,0.9746],[488,0.9736],[490,0.9720],[493,0.9700],[495,0.9680],[496,0.9647],[497,0.9690],[498,0.9700],[500,0.9670],[502,0.9650],[504,0.9638],[506,0.9620],[508,0.9605],[510,0.9580]];
const htRedG2 = [[471,0.9990],[472,1.0010],[474,1.0010],[476,1.0025],[478,1.0040],[479,1.0046],[481,1.0020],[483,1.0007],[485,1.0015],[487,1.0030],[489,1.0038],[491,1.0010],[493,1.0000],[495,0.9988],[497,0.9995],[499,0.9990],[501,0.9998],[503,0.9985],[505,0.9980],[507,0.9988],[509,0.9992],[511,0.9984],[513,0.9980],[515,0.9986],[517,0.9975]];
const htRedG3 = [[472,0.9985],[474,0.9960],[477,0.9970],[480,0.9975],[482,0.9968],[485,0.9960],[488,0.9945],[491,0.9924],[493,0.9900],[495,0.9875],[496,0.9850],[498,0.9809],[500,0.9770],[501,0.9743],[503,0.9700],[505,0.9640],[507,0.9580]];
const htRedG4 = [[473,0.9950],[474,0.9924],[477,0.9905],[479,0.9890],[481,0.9880],[484,0.9868],[486,0.9850],[488,0.9820],[491,0.9790],[494,0.9766],[496,0.9750],[499,0.9736],[501,0.9700],[503,0.9650],[506,0.9580]];
const htRedG5 = [[505,0.9720],[507,0.9760],[509,0.9800],[511,0.9850],[513,0.9880],[515,0.9895],[516,0.9870],[517,0.9800],[518,0.9680],[519,0.9560]];
const htRedG6 = [[474,0.9990],[476,0.9975],[478,0.9995],[480,0.9985],[482,1.0000],[484,0.9980],[486,0.9992],[488,0.9978],[490,0.9995],[492,0.9985],[494,1.0005],[496,0.9988],[498,0.9998],[500,0.9982],[502,0.9995],[504,0.9990],[506,1.0000],[508,0.9985],[510,0.9995],[512,0.9988],[514,0.9998],[516,0.9990],[518,0.9993]];
const htBlackG1 = [0.9950,0.9850,0.9700,0.9880,0.9760,0.9620,0.9800,0.9900,0.9700,0.9580,0.9800,0.9950,0.9680,0.9850,0.9920,0.9600,0.9780,1.0150,0.9550,0.9900,1.0150,0.9500,0.9850,1.0150,0.9550,0.9800,1.0150,0.9550,0.9900,1.0150,0.9550,0.9800,1.0150,0.9600,0.9880,1.0150,0.9550,0.9760,0.9900,0.9700,0.9620,0.9800,0.9720,0.9650,0.9780,0.9700,0.9740];
const htBlackG2 = [0.9900,0.9950,0.9860,0.9920,0.9960,0.9880,0.9940,0.9980,0.9900,0.9850,0.9960,0.9910,0.9980,0.9870,0.9930,0.9990,0.9880,0.9950,0.9920,0.9860,0.9980,0.9900,0.9940,0.9850,0.9960,0.9900,0.9820,0.9950,0.9890,0.9780,0.9920,0.9860,0.9750,0.9900,0.9820,0.9720,0.9880,0.9800,0.9700,0.9850,0.9780,0.9680,0.9820,0.9750,0.9650,0.9800,0.9700];
const htBlackG3 = [0.9700,0.9600,0.9750,0.9550,0.9680,0.9780,0.9600,0.9700,0.9540,0.9650,0.9760,0.9580,0.9680,0.9550,0.9720,0.9620,0.9540,0.9700,0.9600,0.9750,0.9560,0.9650,0.9720,0.9580,0.9680,0.9540,0.9700,0.9620,0.9760,0.9560,0.9680,0.9600,0.9720,0.9550,0.9660,0.9740,0.9580,0.9680,0.9620,0.9700,0.9560,0.9660,0.9720,0.9600,0.9680,0.9580,0.9640];

const htRedH1 = [[521,1.0013],[522,0.9920],[523,0.9540]];
const htRedH2 = [[521,0.9990],[522,0.9858],[523,0.9700],[524,0.9540]];
const htRedH3 = [[526,0.9960],[527,0.9990],[528,1.0050],[529,1.0110],[530,1.0120],[531,1.0095],[532,1.0110],[533,1.0050],[534,0.9985],[535,0.9975],[536,0.9968],[538,0.9955],[540,0.9964],[541,0.9950],[543,0.9943],[546,0.9931],[548,0.9901],[550,0.9880],[551,0.9779],[553,0.9781],[555,0.9717],[556,0.9680],[557,0.9620],[558,0.9540]];
const htRedH4 = [[522,0.9914],[524,0.9941],[526,0.9955],[528,0.9962],[530,0.9970],[531,0.9974],[533,0.9980],[535,0.9984],[537,0.9990],[538,0.9993],[540,0.9996],[541,0.9997],[543,0.9993],[545,0.9998],[547,1.0028],[548,1.0020],[550,1.0008],[552,1.0003],[554,0.9998],[556,0.9992],[557,0.9987],[559,0.9993],[561,0.9995],[563,0.9992],[565,0.9995],[567,0.9998],[568,0.9994],[570,0.9996]];
const htRedH5 = [[524,0.9842],[526,0.9875],[528,0.9901],[530,0.9900],[532,0.9898],[533,0.9840],[535,0.9835],[537,0.9832],[538,0.9800],[539,0.9770],[541,0.9760],[543,0.9750],[545,0.9743],[547,0.9743],[549,0.9725],[551,0.9710],[553,0.9700],[555,0.9684],[557,0.9677],[559,0.9680],[561,0.9683],[563,0.9675],[564,0.9680],[566,0.9707],[567,0.9670]];
const htRedH6 = [[524,0.9945],[526,0.9940],[528,0.9930],[530,0.9900],[532,0.9920],[534,0.9890],[536,0.9900],[538,0.9881],[540,0.9885],[542,0.9878],[544,0.9870],[546,0.9845],[548,0.9819],[550,0.9822],[552,0.9776],[554,0.9740],[556,0.9700],[557,0.9650],[558,0.9560]];
const htRedH7 = [[527,0.9550],[528,0.9760]];
const htBlackH1 = [[521,0.9950],[522,1.0150],[523,0.9600],[524,0.9820],[526,0.9700],[528,0.9650],[530,0.9550],[532,0.9780],[534,0.9865],[535,0.9720],[536,0.9600],[537,0.9760],[538,0.9640],[539,0.9550]];
const htRedI1 = [[575,0.9789],[576,1.0000],[577,0.9941],[578,0.9958],[579,0.9964],[580,0.9962],[581,0.9965],[582,0.9966],[583,0.9980],[584,0.9957],[585,0.9958],[586,0.9951],[587,0.9952],[588,0.9947],[589,0.9898],[590,0.9910],[591,0.9906],[592,0.9848],[593,0.9862],[594,0.9865],[595,0.9842],[596,0.9850],[597,0.9853],[598,0.9855],[599,0.9832],[600,0.9825],[601,0.9812],[602,0.9799],[603,0.9803],[604,0.9807],[605,0.9805],[606,0.9774],[607,0.9780],[608,0.9784],[609,0.9786],[610,0.9784],[611,0.9750],[612,0.9733],[613,0.9740]];

const htBlackRuns = [["hkD1",262,htBlackD1],["hkD2",262,htBlackD2],["hkE1",366,htBlackE1],["hkE2",366,htBlackE2],["hkE3",366,htBlackE3],["hkF1",419,htBlackF1],["hkF2",419,htBlackF2],["hkF3",419,htBlackF3],["hkG1",471,htBlackG1],["hkG2",471,htBlackG2],["hkG3",471,htBlackG3]];
const htBlackPairs = [["hkA",htBlackA],["hkB",htBlackB],["hkC",htBlackC],["hkH1",htBlackH1]];
const htRedRuns = [["rE1",366,htRedE1],["rE2",366,htRedE2],["rE3",366,htRedE3],["rE4",366,htRedE4],["rE5",366,htRedE5],["rF1",419,htRedF1],["rF2",419,htRedF2],["rF3",419,htRedF3],["rF4",419,htRedF4]];
const htRedPairs = [["rA1",htRedA1],["rA2",htRedA2],["rA3",htRedA3],["rB1",htRedB1],["rB2",htRedB2],["rB3",htRedB3],["rC1",htRedC1],["rC2",htRedC2],["rC3",htRedC3],["rD1",htRedD1],["rD2",htRedD2],["rD3",htRedD3],["rD4",htRedD4],["rG1",htRedG1],["rG2",htRedG2],["rG3",htRedG3],["rG4",htRedG4],["rG5",htRedG5],["rG6",htRedG6],["rH1",htRedH1],["rH2",htRedH2],["rH3",htRedH3],["rH4",htRedH4],["rH5",htRedH5],["rH6",htRedH6],["rH7",htRedH7],["rI1",htRedI1]];

function fromRuns(list) {
  const rows = [];
  for (const [id, start, values] of list) values.forEach((v, i) => rows.push({id, cycle: start + i, ce: v}));
  return rows;
}
function fromPairs(list) {
  const rows = [];
  for (const [id, pairs] of list) for (const [c, v] of pairs) rows.push({id, cycle: c, ce: v});
  return rows;
}

const FONT = "'Liberation Sans', Arial, Helvetica, sans-serif";
const AX = "#262626";

function dotted(rows) {
  return Plot.line(rows, {x: "cycle", y: "ce", z: "id", stroke: "#000000", strokeWidth: 3.6, strokeDasharray: "3.5,3", strokeLinejoin: "round", clip: true});
}
function solid(rows, color) {
  return Plot.line(rows, {x: "cycle", y: "ce", z: "id", stroke: color, strokeWidth: 4, strokeLinejoin: "round", clip: true});
}

function panel(title, height, marginTop, marginBottom, layers) {
  return Plot.plot({
    width: 1800, height, marginLeft: 233, marginRight: 170, marginTop, marginBottom,
    style: {fontFamily: FONT, color: AX, background: "#ffffff", overflow: "visible"},
    x: {domain: xDomain},
    y: {domain: yDomain},
    marks: [
      ...layers,
      Plot.ruleX(xTicks, {x: d => d, y1: yDomain[0], y2: yDomain[0], insetTop: -14, stroke: AX, strokeWidth: 2.5}),
      Plot.ruleX(xTicks, {x: d => d, y1: yDomain[1], y2: yDomain[1], insetBottom: -14, stroke: AX, strokeWidth: 2.5}),
      Plot.ruleY(yTicks, {y: d => d, x1: xDomain[0], x2: xDomain[0], insetRight: -14, stroke: AX, strokeWidth: 2.5}),
      Plot.ruleY(yTicks, {y: d => d, x1: xDomain[1], x2: xDomain[1], insetLeft: -14, stroke: AX, strokeWidth: 2.5}),
      Plot.frame({stroke: AX, strokeWidth: 2.6}),
      Plot.axisX(xTicks, {anchor: "bottom", tickSize: 0, tickPadding: 25, fontSize: 44, label: null, tickFormat: d => xTickLabels[xTicks.indexOf(d)]}),
      Plot.axisY(yTicks, {anchor: "left", tickSize: 0, tickPadding: 20, fontSize: 44, label: null, tickFormat: d => yTickLabels[yTicks.indexOf(d)]}),
      Plot.text([title], {text: d => d, frameAnchor: "top", lineAnchor: "top", dy: -58, fontSize: 52, fontWeight: "bold", fill: "#000000"}),
      Plot.text([xLabel], {text: d => d, frameAnchor: "bottom", lineAnchor: "top", dy: 81, fontSize: 53, fill: AX}),
      Plot.text([yLabel], {text: d => d, frameAnchor: "left", rotate: -90, textAnchor: "middle", lineAnchor: "top", dx: -163, fontSize: 53, fill: AX})
    ]
  });
}

const chart = document.getElementById("chart");
chart.append(panel(titles[0], 760, 115, 138, [
  dotted(fromRuns(rtBlackRuns)),
  solid(fromRuns(rtBlueRuns), "#0000ff")
]));
chart.append(panel(titles[1], 740, 67, 166, [
  dotted(fromPairs(htBlackPairs).concat(fromRuns(htBlackRuns))),
  solid(fromPairs(htRedPairs).concat(fromRuns(htRedRuns)), "#ff0000")
]));
</script>
</body></html>
